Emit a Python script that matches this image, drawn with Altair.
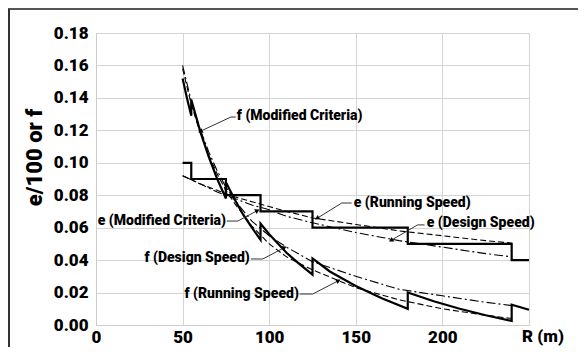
import altair as alt
import pandas as pd

# ---------------- data ----------------
# e (Modified Criteria): stepped superelevation (e/100)
e_mod_R = [50, 55, 55, 75, 75, 95, 95, 125, 125, 180, 180, 240, 240, 250]
e_mod_v = [0.10, 0.10, 0.09, 0.09, 0.08, 0.08, 0.07, 0.07, 0.06, 0.06, 0.05, 0.05, 0.04, 0.04]

# f (Modified Criteria): saw-tooth side friction
f_mod_R = [50, 52.5, 55, 55, 60, 65, 70, 75, 75, 80, 85, 90, 95, 95, 100, 110, 117, 125,
           125, 135, 150, 165, 180, 180, 195, 210, 225, 240, 240, 250]
f_mod_v = [0.152, 0.140, 0.129, 0.139, 0.120, 0.104, 0.090, 0.078, 0.088, 0.0775, 0.068,
           0.060, 0.0525, 0.0625, 0.056, 0.0445, 0.038, 0.031, 0.041, 0.033, 0.024, 0.0165,
           0.010, 0.020, 0.0146, 0.010, 0.006, 0.0025, 0.0125, 0.0094]

# e (Running Speed) dashed, e (Design Speed) dash-dot
e_R = [50, 60, 70, 80, 90, 100, 110, 125, 150, 175, 200, 225, 240]
e_run_v = [0.092, 0.087, 0.083, 0.079, 0.076, 0.073, 0.070, 0.066, 0.062, 0.058, 0.055, 0.052, 0.0505]
e_des_v = [0.092, 0.087, 0.082, 0.078, 0.074, 0.071, 0.067, 0.063, 0.057, 0.052, 0.048, 0.044, 0.042]

# f (Running Speed) dashed, f (Design Speed) dash-dot
f_R = [50, 55, 60, 65, 70, 75, 80, 90, 100, 110, 125, 150, 175, 200, 225, 240]
f_run_v = [0.158, 0.136, 0.119, 0.105, 0.093, 0.083, 0.075, 0.061, 0.050, 0.042, 0.034,
           0.023, 0.0155, 0.010, 0.006, 0.004]
f_des_v = [0.160, 0.138, 0.121, 0.107, 0.095, 0.085, 0.077, 0.064, 0.055, 0.048, 0.039,
           0.030, 0.022, 0.018, 0.014, 0.012]

# axis ticks
x_ticks = [0, 50, 100, 150, 200, 250]
y_ticks = [0.00, 0.02, 0.04, 0.06, 0.08, 0.10, 0.12, 0.14, 0.16, 0.18]

# annotations: label, text R, text v, align, leader points (R, v), arrow angle
ann_labels = ["f (Modified Criteria)", "e (Modified Criteria)", "f (Design Speed)",
              "f (Running Speed)", "e (Running Speed)", "e (Design Speed)"]
ann_R = [81.3, 75.0, 88.8, 117.1, 148.8, 190.9]
ann_v = [0.1289, 0.0641, 0.0413, 0.0191, 0.0752, 0.0629]
ann_align = ["left", "right", "right", "right", "left", "left"]
lead_R = [[80.7, 77.9, 60.6], [75.5, 81.9, 92.8], [89.4, 96.3, 108.4],
          [117.6, 125.1, 139.6], [147.6, 141.9, 128.0], [189.7, 185.7, 170.7]]
lead_v = [[0.1282, 0.1282, 0.1196], [0.0641, 0.0641, 0.0703], [0.0407, 0.0407, 0.0475],
          [0.0191, 0.0191, 0.0271], [0.0752, 0.0752, 0.0660], [0.0617, 0.0617, 0.0524]]
arrow_angle = [245, 62, 62, 62, 238, 240]

FONT = "Roboto"

# ---------------- build ----------------
xs = alt.Scale(domain=[0, 250], nice=False)
ys = alt.Scale(domain=[0, 0.18], nice=False)

x_axis = alt.Axis(values=x_ticks, title=None, grid=True, ticks=False,
                  labelExpr="datum.value == 250 ? '' : datum.label",
                  labelPadding=4)
y_axis = alt.Axis(values=y_ticks, format=".2f", title="e/100 or f", grid=True,
                  ticks=False, labelPadding=8,
                  titleAngle=270, titleX=-55, titleY=124, titleBaseline="alphabetic")

def X():
    return alt.X("R:Q", scale=xs, axis=x_axis)

def Y():
    return alt.Y("v:Q", scale=ys, axis=y_axis)

def line_layer(R, v, width, dash=None):
    df = pd.DataFrame({"R": R, "v": v, "i": list(range(len(R)))})
    kw = dict(color="black", strokeWidth=width, clip=False)
    if dash:
        kw["strokeDash"] = dash
    return alt.Chart(df).mark_line(**kw).encode(x=X(), y=Y(), order="i:Q")

layers = [
    line_layer(e_R, e_run_v, 1.1, [6, 3]),
    line_layer(e_R, e_des_v, 1.1, [9, 3, 2, 3]),
    line_layer(f_R, f_run_v, 1.1, [6, 3]),
    line_layer(f_R, f_des_v, 1.1, [9, 3, 2, 3]),
    line_layer(e_mod_R, e_mod_v, 2.2),
    line_layer(f_mod_R, f_mod_v, 2.2),
]

# leader lines
for k in range(len(ann_labels)):
    df = pd.DataFrame({"R": lead_R[k], "v": lead_v[k], "i": [0, 1, 2]})
    layers.append(alt.Chart(df).mark_line(color="#333333", strokeWidth=1).encode(
        x=X(), y=Y(), order="i:Q"))

# arrow heads
arr_df = pd.DataFrame({"R": [lr[-1] for lr in lead_R], "v": [lv[-1] for lv in lead_v],
                       "a": arrow_angle})
layers.append(alt.Chart(arr_df).mark_point(shape="triangle", filled=True, size=28,
                                           color="black", opacity=1).encode(
    x=X(), y=Y(), angle=alt.Angle("a:Q", scale=None)))

# annotation text
for al in ["left", "right"]:
    idx = [i for i in range(len(ann_labels)) if ann_align[i] == al]
    df = pd.DataFrame({"R": [ann_R[i] for i in idx], "v": [ann_v[i] for i in idx],
                       "t": [ann_labels[i] for i in idx]})
    layers.append(alt.Chart(df).mark_text(align=al, baseline="middle", font=FONT,
                                          fontSize=14, fontWeight=900, color="black").encode(
        x=X(), y=Y(), text="t:N"))

# "R (m)" axis label in place of 250
rm_df = pd.DataFrame({"R": [250], "v": [0.0], "t": ["R (m)"]})
layers.append(alt.Chart(rm_df).mark_text(align="left", baseline="top", dx=-7, dy=4,
                                         font=FONT, fontSize=17, fontWeight=900,
                                         color="black").encode(
    x=X(), y=Y(), text="t:N"))

# outer frame (top and left edges of the figure box)
frame_top = alt.Chart(pd.DataFrame({"a": [0]})).mark_rule(color="#555555", strokeWidth=2).encode(
    x=alt.value(-88), x2=alt.value(490), y=alt.value(-24))
frame_left = alt.Chart(pd.DataFrame({"a": [0]})).mark_rule(color="#333333", strokeWidth=2).encode(
    x=alt.value(-87), y=alt.value(-24), y2=alt.value(330))
layers += [frame_top, frame_left]

chart = alt.layer(*layers).properties(
    width=433, height=292,
    autosize=alt.AutoSizeParams(type="none"),
    padding={"left": 88, "top": 25, "right": 49, "bottom": 22},
).configure_view(stroke="#d4d4d4").configure(background="white").configure_axis(
    labelFont=FONT, labelFontSize=17, labelFontWeight=900, labelColor="black",
    labelOverlap=False, labelFlush=False,
    titleFont=FONT, titleFontSize=22, titleFontWeight=900, titleColor="black",
    domainColor="#cccccc", gridColor="#d4d4d4",
)

chart.save("out.html", embed_options={"renderer": "svg", "actions": False})
